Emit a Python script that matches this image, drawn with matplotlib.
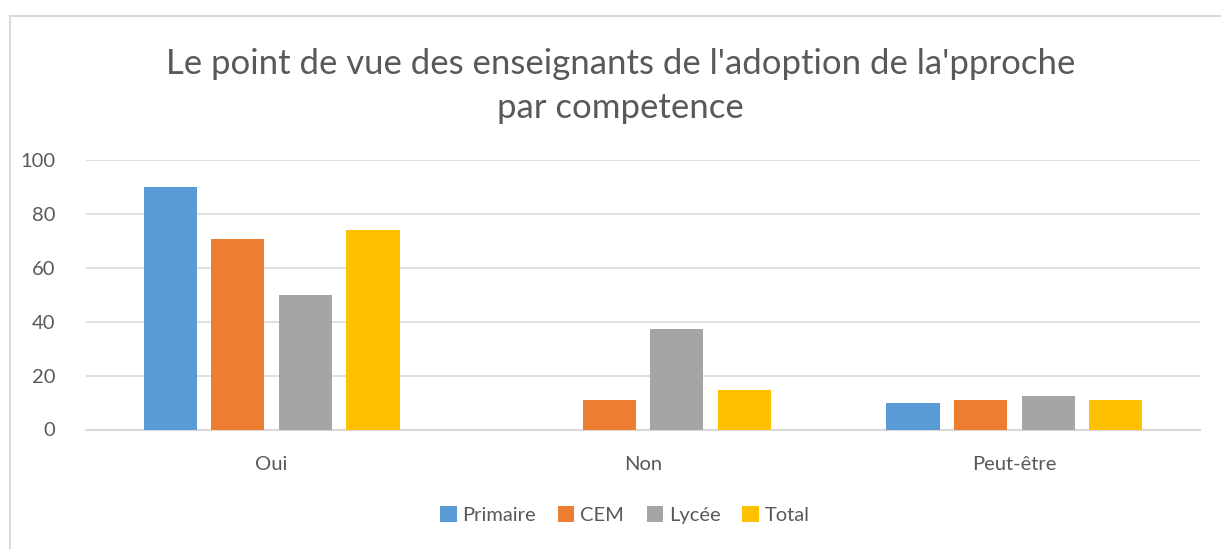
import numpy as np
import matplotlib
matplotlib.use("Agg")
import matplotlib.pyplot as plt
from matplotlib.lines import Line2D

categories = ["Oui", "Non", "Peut-être"]
series = ["Primaire", "CEM", "Lycée", "Total"]
primaire = [90, 0, 10]
cem = [70.6, 11, 11]
lycee = [50, 37.2, 12.4]
total = [74, 14.6, 11]
colors = ["#5b9bd5", "#ed7d31", "#a5a5a5", "#ffc000"]
yticks = [0, 20, 40, 60, 80, 100]

plt.rcParams['font.family'] = ['Lato', 'DejaVu Sans']

fig = plt.figure(figsize=(12.21, 5.49), dpi=100)
ax = fig.add_axes([86 / 1221, 1 - 429.5 / 549, (1200 - 86) / 1221, (429.5 - 160) / 549])

x = np.arange(len(categories))
width = 0.143
step = 0.182
values = [primaire, cem, lycee, total]
for i, (name, vals) in enumerate(zip(series, values)):
    ax.bar(x + (i - 1.5) * step, vals, width, color=colors[i], label=name, zorder=3)

ax.set_xlim(-0.5, 2.5)
ax.set_ylim(0, 100)
ax.set_yticks(yticks)
ax.set_xticks(x)
ax.set_xticklabels(categories)
ax.grid(axis="y", color="#d9d9d9", linewidth=1.2, zorder=0)
for s in ["top", "right", "left"]:
    ax.spines[s].set_visible(False)
ax.spines["bottom"].set_color("#d9d9d9")
ax.spines["bottom"].set_linewidth(1.5)
ax.tick_params(axis="both", length=0, labelsize=14.5, labelcolor="#595959")
ax.tick_params(axis="x", pad=19)
ax.tick_params(axis="y", pad=22)

fig.text(0.508, 1 - 86 / 549, "Le point de vue des enseignants de l'adoption de la'pproche\npar competence",
         ha="center", va="center", fontsize=25, color="#595959", linespacing=1.45)

fig.legend(loc="center", bbox_to_anchor=(625 / 1221, 1 - 515 / 549), ncol=4, frameon=False,
           fontsize=14.5, labelcolor="#595959", handlelength=0.8, handleheight=0.8,
           handletextpad=0.3, columnspacing=1.1)

# outer chart border (left and top visible)
fig.add_artist(Line2D([10 / 1221, 10 / 1221], [0, 1 - 15.5 / 549], transform=fig.transFigure, color="#d9d9d9", linewidth=1.5))
fig.add_artist(Line2D([10 / 1221, 1], [1 - 15.5 / 549, 1 - 15.5 / 549], transform=fig.transFigure, color="#d9d9d9", linewidth=1.5))

fig.savefig("out.png", dpi=100)
